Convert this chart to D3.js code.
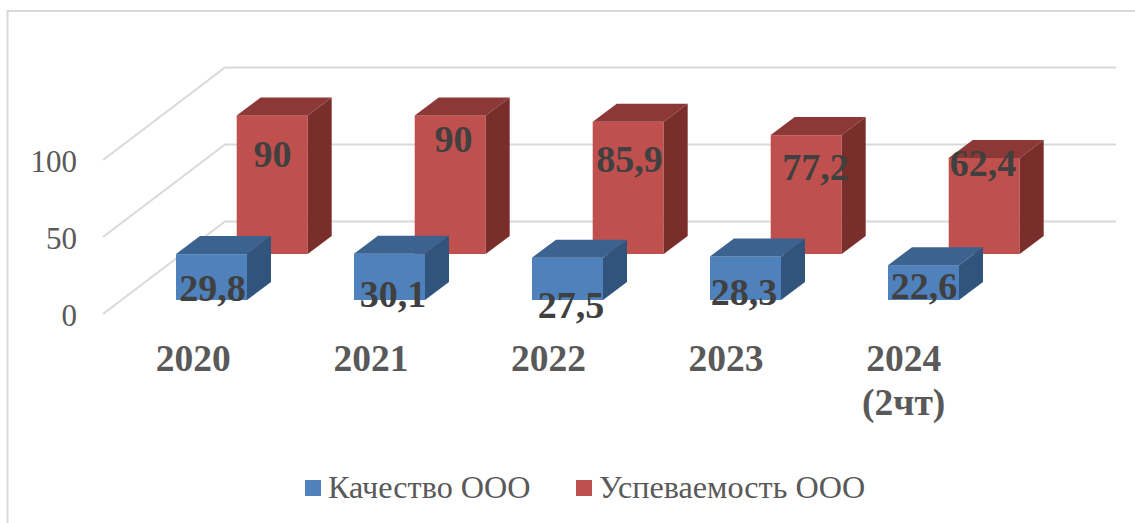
<!DOCTYPE html>
<html>
<head>
<meta charset="utf-8">
<script src="https://cdn.jsdelivr.net/npm/d3@7"></script>
<style>
  html, body { margin: 0; padding: 0; background: #fff; overflow: hidden; }
  svg { opacity: 0.999; }
  text { font-family: "Liberation Serif", serif; }
</style>
</head>
<body>
<div id="chart"></div>
<script>
const categories = ['2020', '2021', '2022', '2023', '2024'];
const categorySecondLine = ['', '', '', '', '(2чт)'];
const seriesNames = ['Качество ООО', 'Успеваемость ООО'];
const kachestvo = [29.8, 30.1, 27.5, 28.3, 22.6];
const uspevaemost = [90, 90, 85.9, 77.2, 62.4];
const yTicks = [0, 50, 100];

// the value labels were dragged around by hand in the original
const blueNudgeX = [1, 3.5, 3.5, -1.5, 0.5];
const blueNudgeY = [46.6, 53, 60, 48.6, 33.8];
const redNudgeX = [0, 3, 1, 9, -1.5];
const redNudgeY = [51.6, 36.6, 50, 45, 18];

const width = 1135, height = 523;

const svg = d3.select('#chart').append('svg')
    .attr('width', width)
    .attr('height', height)
    .style('display', 'block');

// outer frame
svg.append('rect')
    .attr('x', 7.5).attr('y', 11)
    .attr('width', width + 20).attr('height', height + 20)
    .attr('fill', 'none')
    .attr('stroke', '#d9d9d9')
    .attr('stroke-width', 2);

const x = d3.scaleBand().domain(categories).range([104, 994]);
// category labels run a touch tighter than the bars
const xLabel = d3.scaleBand().domain(categories).range([104.5, 992.5]);
const y = d3.scaleLinear().domain([0, 100]).range([314, 160]);

// pseudo 3d: floor depth of the whole plot and of one bar
const floorDx = 122, floorDy = -92.5;
const barDx = 24, barDy = -18;
const barW = 71;

// gridlines on side wall and back wall
const gridColor = '#d9d9d9';
svg.selectAll('.grid')
    .data(yTicks)
    .enter().append('polyline')
    .attr('class', 'grid')
    .attr('fill', 'none')
    .attr('stroke', gridColor)
    .attr('stroke-width', 2)
    .attr('points', d => {
        const yy = y(d);
        return `103,${yy} ${103 + floorDx},${yy + floorDy} 1116,${yy + floorDy}`;
    });

svg.selectAll('.tick-label')
    .data(yTicks)
    .enter().append('text')
    .attr('class', 'tick-label')
    .attr('x', 77)
    .attr('y', d => y(d) + 11.5)
    .attr('text-anchor', 'end')
    .attr('font-size', 31)
    .attr('fill', '#595959')
    .text(d => d);

function drawBars(values, name, offsetX, baseShift, front, top, side) {
    const g = svg.append('g').attr('class', name);
    const base = y(0) - baseShift;
    const h = d => y(0) - y(d);

    const bars = g.selectAll('g')
        .data(values)
        .enter().append('g')
        .attr('transform', (d, i) => `translate(${x(categories[i]) + offsetX},${base})`);

    bars.append('rect')
        .attr('x', 0).attr('y', d => -h(d))
        .attr('width', barW).attr('height', d => h(d))
        .attr('fill', front);

    bars.append('polygon')
        .attr('fill', top)
        .attr('points', d => `0,${-h(d)} ${barDx},${-h(d) + barDy} ${barW + barDx},${-h(d) + barDy} ${barW},${-h(d)}`);

    bars.append('polygon')
        .attr('fill', side)
        .attr('points', d => `${barW},${-h(d)} ${barW + barDx},${-h(d) + barDy} ${barW + barDx},${barDy} ${barW},0`);
}

// red row sits behind the blue one
drawBars(uspevaemost, 'red', 132.7, 60, '#c0504d', '#8c3836', '#7a2e2c');
drawBars(kachestvo, 'blue', 72, 14, '#4f81bd', '#3c6290', '#31547d');

function drawLabels(values, offsetX, baseShift, nudgeX, nudgeY) {
    svg.append('g').selectAll('text')
        .data(values)
        .enter().append('text')
        .attr('x', (d, i) => x(categories[i]) + offsetX + barW / 2 + nudgeX[i])
        .attr('y', (d, i) => y(d) - baseShift + nudgeY[i])
        .attr('text-anchor', 'middle')
        .attr('font-size', 38)
        .attr('font-weight', 'bold')
        .attr('fill', '#404040')
        .text(d => String(d).replace('.', ','));
}

drawLabels(uspevaemost, 133, 60, redNudgeX, redNudgeY);
drawLabels(kachestvo, 72, 14, blueNudgeX, blueNudgeY);

// category labels
svg.selectAll('.cat')
    .data(categories)
    .enter().append('text')
    .attr('class', 'cat')
    .attr('x', d => xLabel(d) + xLabel.bandwidth() / 2)
    .attr('y', 370.5)
    .attr('text-anchor', 'middle')
    .attr('font-size', 37.5)
    .attr('font-weight', 'bold')
    .attr('fill', '#595959')
    .text(d => d);

svg.selectAll('.cat2')
    .data(categories)
    .enter().append('text')
    .attr('class', 'cat2')
    .attr('x', d => xLabel(d) + xLabel.bandwidth() / 2)
    .attr('y', 414.5)
    .attr('text-anchor', 'middle')
    .attr('font-size', 37.5)
    .attr('font-weight', 'bold')
    .attr('fill', '#595959')
    .text((d, i) => categorySecondLine[i]);

// legend
const legendX = [305, 576];
const legendColor = ['#4f81bd', '#c0504d'];
const legend = svg.selectAll('.legend')
    .data(seriesNames)
    .enter().append('g')
    .attr('class', 'legend')
    .attr('transform', (d, i) => `translate(${legendX[i]},480)`);

legend.append('rect')
    .attr('width', 16).attr('height', 16)
    .attr('fill', (d, i) => legendColor[i]);

legend.append('text')
    .attr('x', 23)
    .attr('y', 18)
    .attr('font-size', 32.2)
    .attr('fill', '#595959')
    .text(d => d);
</script>
</body>
</html>
